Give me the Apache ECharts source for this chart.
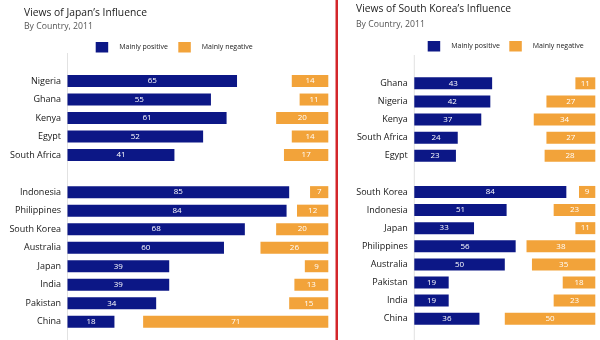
<!DOCTYPE html>
<html>
<head>
<meta charset="utf-8">
<script src="https://cdn.jsdelivr.net/npm/echarts@6/dist/echarts.min.js"></script>
<style>html,body{margin:0;padding:0;background:#fff;}#c{width:600px;height:340px;}</style>
</head>
<body>
<div id="c"></div>
<script>
const leftCats = ['Nigeria','Ghana','Kenya','Egypt','South Africa','','Indonesia','Philippines','South Korea','Australia','Japan','India','Pakistan','China'];
const leftPos = [65,55,61,52,41,null,85,84,68,60,39,39,34,18];
const leftNeg = [14,11,20,14,17,null,7,12,20,26,9,13,15,71];
const rightCats = ['Ghana','Nigeria','Kenya','South Africa','Egypt','','South Korea','Indonesia','Japan','Philippines','Australia','Pakistan','India','China'];
const rightPos = [43,42,37,24,23,null,84,51,33,56,50,19,19,36];
const rightNeg = [11,27,34,27,28,null,9,23,11,38,35,18,23,50];

const NAVY = '#0c1786';
const ORANGE = '#f2a33a';
const G = [
  {left: 67.5, top: 71.75, width: 260.8, height: 259.3},
  {left: 414.3, top: 74.25, width: 181, height: 253.5}
];

const chart = echarts.init(document.getElementById('c'), null, {renderer: 'canvas'});

function barSeries(name, data, xi, yi, color) {
  return {
    type: 'bar', name: name, data: data, xAxisIndex: xi, yAxisIndex: yi,
    barWidth: 12, barGap: '-100%',
    itemStyle: {color: color},
    label: {show: true, position: 'inside', color: '#fff', fontSize: 8, fontFamily: 'Open Sans'},
    emphasis: {disabled: true},
    silent: true
  };
}
function legendItem(name, left, top) {
  return {
    data: [name], left: left, top: top, padding: 0, icon: 'rect',
    itemWidth: 12.5, itemHeight: 10.5, selectedMode: false,
    textStyle: {fontSize: 7, color: '#1a1a1a', fontFamily: 'Open Sans', padding: [0, 0, 0, 6]}
  };
}
function yAx(gi, cats) {
  return {
    type: 'category', gridIndex: gi, data: cats, inverse: true,
    axisLine: {show: false}, axisTick: {show: false},
    axisLabel: {fontSize: 9, color: '#161616', margin: 6.5, fontFamily: 'Open Sans'}
  };
}

chart.setOption({
  animation: false,
  textStyle: {fontFamily: 'Open Sans'},
  title: [
    {text: 'Views of Japan\u2019s Influence', subtext: 'By Country, 2011', left: 24, top: 6.5, padding: 0, itemGap: 0.5,
     textStyle: {fontSize: 10.3, fontWeight: 'normal', color: '#222', lineHeight: 14},
     subtextStyle: {fontSize: 8.7, color: '#555', lineHeight: 12}},
    {text: 'Views of South Korea\u2019s Influence', subtext: 'By Country, 2011', left: 356, top: 2.5, padding: 0, itemGap: 2,
     textStyle: {fontSize: 10.3, fontWeight: 'normal', color: '#222', lineHeight: 14},
     subtextStyle: {fontSize: 8.7, color: '#555', lineHeight: 12}}
  ],
  legend: [
    legendItem('Mainly positive', 95.7, 42),
    legendItem('Mainly negative', 178.3, 42),
    legendItem('Mainly positive', 427.7, 41),
    legendItem('Mainly negative', 509.3, 41)
  ],
  grid: G,
  xAxis: [
    {type: 'value', gridIndex: 0, min: 0, max: 100, show: false},
    {type: 'value', gridIndex: 0, min: 0, max: 100, inverse: true, show: false},
    {type: 'value', gridIndex: 1, min: 0, max: 100, show: false},
    {type: 'value', gridIndex: 1, min: 0, max: 100, inverse: true, show: false}
  ],
  yAxis: [yAx(0, leftCats), yAx(1, rightCats)],
  series: [
    barSeries('Mainly positive', leftPos, 0, 0, NAVY),
    barSeries('Mainly negative', leftNeg, 1, 0, ORANGE),
    barSeries('Mainly positive', rightPos, 2, 1, NAVY),
    barSeries('Mainly negative', rightNeg, 3, 1, ORANGE)
  ],
  graphic: [
    {type: 'line', shape: {x1: G[0].left, y1: 53, x2: G[0].left, y2: 340}, style: {stroke: '#e2e2e2', lineWidth: 1}, silent: true},
    {type: 'line', shape: {x1: G[1].left, y1: 55, x2: G[1].left, y2: 340}, style: {stroke: '#e2e2e2', lineWidth: 1}, silent: true},
    {type: 'rect', shape: {x: 335.5, y: 0, width: 2.5, height: 340}, style: {fill: '#d3262b'}, silent: true}
  ]
});
</script>
</body>
</html>
